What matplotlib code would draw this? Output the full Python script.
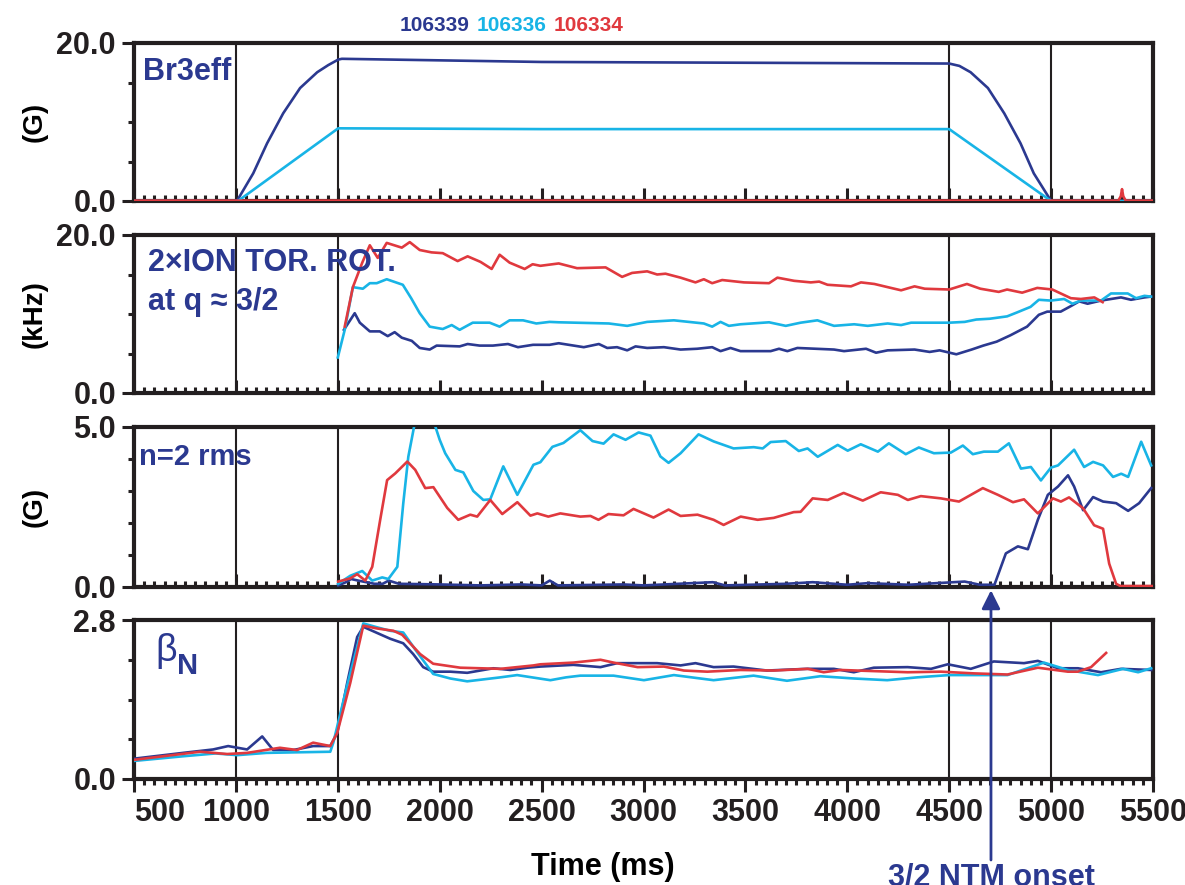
import matplotlib
matplotlib.use('Agg')
import matplotlib.pyplot as plt

plt.rcParams['font.family'] = ['Liberation Sans Narrow', 'Liberation Sans', 'DejaVu Sans']
plt.rcParams['font.weight'] = 'bold'

NAVY = '#2b3990'
CYAN = '#18b4e6'
RED = '#e0393e'

shots = ['106339', '106336', '106334']
shot_colors = [NAVY, CYAN, RED]

# --- Br3eff (G) ---
br_t_339 = [500, 1005, 1085, 1153, 1232, 1315, 1399, 1453, 1502, 1520, 2500, 3500, 4500,
            4550, 4605, 4690, 4770, 4850, 4915, 5000, 5500]
br_v_339 = [0.0, 0.0, 3.5, 7.3, 11.1, 14.3, 16.3, 17.2, 17.9, 18.0, 17.6, 17.5, 17.4,
            17.1, 16.3, 14.3, 11.1, 7.3, 3.5, 0.0, 0.0]
br_t_336 = [500, 1010, 1502, 2500, 3500, 4500, 5000, 5500]
br_v_336 = [0.0, 0.0, 9.2, 9.1, 9.1, 9.1, 0.0, 0.0]
br_t_334 = [500, 5330, 5342, 5348, 5354, 5366, 5500]
br_v_334 = [0.05, 0.05, 0.6, 1.5, 0.6, 0.05, 0.05]

# --- 2x ion toroidal rotation at q=3/2 (kHz) ---
rot_t_339 = [1530, 1583, 1608, 1657, 1706, 1745, 1779, 1814, 1863, 1902, 1951, 1985, 2098,
             2137, 2196, 2261, 2335, 2384, 2458, 2539, 2584, 2707, 2781, 2822, 2870, 2920,
             2961, 3018, 3100, 3182, 3263, 3337, 3378, 3427, 3476, 3624, 3665, 3706, 3755,
             3935, 3984, 4092, 4141, 4198, 4330, 4404, 4453, 4535, 4610, 4667, 4733, 4800,
             4882, 4940, 4981, 5047, 5097, 5138, 5179, 5245, 5343, 5392, 5458, 5490]
rot_v_339 = [8.0, 10.1, 8.9, 7.8, 7.8, 7.2, 7.7, 7.0, 6.6, 5.7, 5.5, 6.0, 5.9,
             6.2, 6.0, 6.0, 6.2, 5.8, 6.1, 6.1, 6.3, 5.8, 6.2, 5.7, 5.8, 5.4,
             5.9, 5.7, 5.8, 5.5, 5.6, 5.8, 5.3, 5.7, 5.3, 5.3, 5.6, 5.3, 5.7,
             5.5, 5.3, 5.6, 5.1, 5.4, 5.5, 5.2, 5.4, 4.9, 5.5, 6.0, 6.5, 7.3,
             8.4, 9.9, 10.3, 10.3, 11.0, 11.6, 11.3, 11.7, 12.1, 11.8, 12.1, 12.2]
rot_t_336 = [1500, 1534, 1574, 1623, 1657, 1691, 1740, 1819, 1860, 1902, 1951, 2015, 2059,
             2098, 2162, 2245, 2294, 2343, 2409, 2474, 2539, 2584, 2830, 2920, 3018, 3149,
             3296, 3337, 3378, 3419, 3476, 3616, 3698, 3771, 3853, 3935, 4034, 4100, 4198,
             4264, 4313, 4400, 4500, 4576, 4633, 4699, 4784, 4833, 4899, 4940, 4998, 5064,
             5105, 5146, 5245, 5294, 5376, 5417, 5458, 5490]
rot_v_336 = [4.5, 8.0, 13.4, 13.2, 13.9, 13.9, 14.4, 13.7, 12.0, 10.1, 8.4, 8.1, 8.6,
             8.0, 8.9, 8.9, 8.4, 9.2, 9.2, 8.8, 9.0, 8.95, 8.8, 8.5, 9.0, 9.2,
             8.8, 8.4, 9.0, 8.5, 8.7, 8.95, 8.5, 8.9, 9.2, 8.5, 8.7, 8.5, 8.8,
             8.6, 8.9, 8.9, 8.9, 9.0, 9.3, 9.4, 9.7, 10.2, 10.9, 11.8, 11.7, 11.9,
             11.3, 11.7, 11.7, 12.6, 12.6, 12.0, 12.3, 12.2]
rot_t_334 = [1534, 1574, 1620, 1657, 1696, 1740, 1814, 1853, 1902, 1960, 2015, 2088, 2137,
             2200, 2255, 2294, 2343, 2417, 2456, 2494, 2584, 2674, 2814, 2895, 2944, 3018,
             3067, 3108, 3182, 3255, 3296, 3337, 3386, 3493, 3616, 3657, 3739, 3821, 3862,
             3903, 4018, 4067, 4133, 4198, 4264, 4330, 4380, 4500, 4587, 4653, 4743, 4784,
             4858, 4932, 5006, 5097, 5146, 5212, 5253]
rot_v_334 = [8.4, 13.4, 16.5, 18.7, 17.1, 19.0, 18.4, 19.1, 18.1, 17.8, 17.7, 16.7, 17.3,
             16.6, 15.7, 17.5, 16.5, 15.7, 16.3, 16.1, 16.4, 15.8, 15.9, 14.7, 15.2, 15.4,
             15.0, 15.1, 14.6, 14.0, 14.4, 13.9, 14.3, 14.0, 13.9, 14.6, 14.2, 14.0, 14.1,
             13.7, 13.5, 14.0, 13.8, 13.4, 13.0, 13.5, 13.2, 13.1, 13.8, 13.2, 12.8, 13.1,
             12.7, 13.3, 13.1, 12.0, 11.9, 12.1, 11.5]

# --- n=2 rms (G) ---
n2_t_339 = [1502, 1540, 1565, 1600, 1640, 1680, 1720, 1750, 1800, 2000, 2200, 2400, 2500,
            2540, 2580, 2900, 3000, 3340, 3400, 3700, 3830, 4000, 4100, 4300, 4576, 4650,
            4722, 4778, 4837, 4886, 4935, 4984, 5034, 5083, 5113, 5157, 5206, 5255, 5319,
            5378, 5432, 5491]
n2_v_339 = [0.05, 0.15, 0.25, 0.2, 0.15, 0.1, 0.1, 0.2, 0.1, 0.08, 0.05, 0.08, 0.05,
            0.2, 0.05, 0.08, 0.05, 0.15, 0.05, 0.1, 0.15, 0.07, 0.12, 0.07, 0.17, 0.07,
            0.07, 1.05, 1.27, 1.18, 2.1, 2.88, 3.14, 3.49, 3.14, 2.4, 2.81, 2.67, 2.62,
            2.38, 2.62, 3.09]
n2_t_336 = [1502, 1561, 1620, 1669, 1718, 1748, 1792, 1821, 1846, 1880, 1920, 1969, 2000,
            2027, 2077, 2116, 2165, 2214, 2248, 2312, 2381, 2460, 2494, 2553, 2607, 2690,
            2750, 2804, 2853, 2912, 2976, 3034, 3083, 3123, 3182, 3270, 3344, 3442, 3541,
            3585, 3624, 3698, 3762, 3805, 3855, 3953, 4002, 4066, 4150, 4204, 4287, 4351,
            4425, 4508, 4567, 4616, 4670, 4739, 4793, 4852, 4901, 4950, 4999, 5034, 5113,
            5162, 5206, 5255, 5304, 5344, 5378, 5442, 5491]
n2_v_336 = [0.1, 0.35, 0.5, 0.2, 0.3, 0.25, 0.63, 2.6, 4.07, 5.2, 5.5, 5.2, 4.6,
            4.18, 3.66, 3.58, 3.0, 2.72, 2.74, 3.77, 2.88, 3.82, 3.9, 4.38, 4.5, 4.9,
            4.56, 4.48, 4.77, 4.6, 4.83, 4.73, 4.08, 3.88, 4.18, 4.77, 4.55, 4.33, 4.37,
            4.33, 4.53, 4.56, 4.25, 4.33, 4.07, 4.44, 4.26, 4.46, 4.23, 4.49, 4.15, 4.36,
            4.18, 4.2, 4.42, 4.15, 4.23, 4.23, 4.49, 3.7, 3.75, 3.33, 3.73, 3.8, 4.29,
            3.75, 3.91, 3.8, 3.44, 3.54, 3.44, 4.54, 3.8]
n2_t_334 = [1502, 1561, 1595, 1635, 1669, 1708, 1742, 1782, 1841, 1880, 1929, 1969, 2037,
            2091, 2150, 2184, 2248, 2307, 2381, 2445, 2479, 2533, 2592, 2690, 2740, 2779,
            2828, 2902, 2951, 3049, 3123, 3182, 3265, 3344, 3393, 3477, 3560, 3639, 3737,
            3771, 3830, 3904, 3982, 4076, 4164, 4248, 4297, 4361, 4459, 4548, 4665, 4739,
            4813, 4867, 4935, 5009, 5048, 5088, 5157, 5211, 5255, 5285, 5319, 5340, 5500]
n2_v_334 = [0.17, 0.27, 0.4, 0.2, 0.63, 2.1, 3.34, 3.55, 3.92, 3.66, 3.09, 3.12, 2.47,
            2.1, 2.26, 2.2, 2.72, 2.28, 2.65, 2.23, 2.3, 2.2, 2.3, 2.2, 2.22, 2.1,
            2.28, 2.24, 2.44, 2.17, 2.42, 2.22, 2.26, 2.1, 1.94, 2.2, 2.1, 2.16, 2.34,
            2.35, 2.77, 2.72, 2.94, 2.7, 2.96, 2.88, 2.72, 2.84, 2.77, 2.67, 3.09, 2.88,
            2.65, 2.74, 2.3, 2.77, 2.67, 2.8, 2.46, 1.93, 1.82, 0.73, 0.1, 0.03, 0.03]

# --- beta_N ---
bn_t_339 = [505, 741, 888, 962, 1055, 1129, 1183, 1281, 1379, 1463, 1497, 1546, 1595, 1625,
            1694, 1757, 1821, 1870, 1919, 1968, 2052, 2135, 2263, 2347, 2430, 2494, 2656,
            2789, 2871, 3067, 3182, 3255, 3344, 3442, 3606, 3803, 3934, 4032, 4130, 4296,
            4411, 4493, 4606, 4719, 4867, 4935, 5034, 5132, 5245, 5343, 5491]
bn_v_339 = [0.36, 0.46, 0.52, 0.58, 0.52, 0.75, 0.51, 0.51, 0.58, 0.58, 0.81, 1.69, 2.5, 2.68,
            2.57, 2.47, 2.39, 2.2, 1.97, 1.89, 1.89, 1.87, 1.95, 1.92, 1.96, 1.98, 2.01,
            1.97, 2.04, 2.04, 2.0, 2.04, 1.97, 1.98, 1.91, 1.94, 1.94, 1.88, 1.96, 1.97,
            1.94, 2.02, 1.94, 2.07, 2.04, 2.08, 1.95, 1.95, 1.88, 1.94, 1.92]
bn_t_336 = [505, 740, 900, 1006, 1150, 1300, 1463, 1478, 1546, 1625, 1694, 1757, 1821, 1890,
            1968, 2052, 2135, 2298, 2380, 2543, 2620, 2690, 2853, 3002, 3149, 3344, 3540,
            3704, 3868, 4032, 4196, 4343, 4500, 4786, 4884, 4965, 5082, 5230, 5353, 5427,
            5491]
bn_v_336 = [0.32, 0.4, 0.45, 0.42, 0.46, 0.47, 0.48, 0.64, 1.65, 2.74, 2.67, 2.61, 2.58, 2.23,
            1.85, 1.77, 1.72, 1.79, 1.83, 1.74, 1.79, 1.82, 1.82, 1.74, 1.83, 1.74, 1.82,
            1.73, 1.81, 1.77, 1.74, 1.79, 1.83, 1.83, 1.95, 2.05, 1.92, 1.83, 1.94, 1.88,
            1.95]
bn_t_334 = [505, 824, 957, 1055, 1216, 1300, 1379, 1463, 1497, 1561, 1625, 1694, 1773, 1816,
            1904, 1968, 2101, 2298, 2460, 2494, 2656, 2789, 2853, 2971, 3100, 3198, 3313,
            3476, 3640, 3806, 3884, 3967, 4130, 4296, 4459, 4621, 4786, 4935, 5082, 5131,
            5196, 5270]
bn_v_334 = [0.34, 0.48, 0.44, 0.46, 0.55, 0.51, 0.64, 0.58, 0.81, 1.69, 2.7, 2.65, 2.61, 2.54,
            2.2, 2.03, 1.96, 1.94, 2.0, 2.02, 2.05, 2.1, 2.05, 1.97, 1.98, 1.91, 1.89,
            1.92, 1.91, 1.94, 1.88, 1.92, 1.9, 1.88, 1.89, 1.86, 1.84, 1.96, 1.89, 1.89,
            1.97, 2.22]

phase_times = [1000, 1500, 4500, 5000]
ntm_onset = 4705
x_ticks = [500, 1000, 1500, 2000, 2500, 3000, 3500, 4000, 4500, 5000, 5500]

panels = [
    dict(series=[(br_t_339, br_v_339), (br_t_336, br_v_336), (br_t_334, br_v_334)],
         top=20.0, ytop='20.0', nminor=4, unit='(G)'),
    dict(series=[(rot_t_339, rot_v_339), (rot_t_336, rot_v_336), (rot_t_334, rot_v_334)],
         top=20.0, ytop='20.0', nminor=4, unit='(kHz)'),
    dict(series=[(n2_t_339, n2_v_339), (n2_t_336, n2_v_336), (n2_t_334, n2_v_334)],
         top=5.0, ytop='5.0', nminor=5, unit='(G)'),
    dict(series=[(bn_t_339, bn_v_339), (bn_t_336, bn_v_336), (bn_t_334, bn_v_334)],
         top=2.8, ytop='2.8', nminor=4, unit=None),
]

W, H = 1185, 885
fig = plt.figure(figsize=(W / 100, H / 100), dpi=100)

# panel boxes in pixels: (top, bottom)
boxes = [(43, 201), (235, 393), (427, 587), (620, 779)]
x0, x1 = 134, 1153

axes = []
for k, (p, (yt, yb)) in enumerate(zip(panels, boxes)):
    ax = fig.add_axes([x0 / W, 1 - yb / H, (x1 - x0) / W, (yb - yt) / H])
    axes.append(ax)
    for (t, v), c in zip(p['series'], shot_colors):
        ax.plot(t, v, color=c, lw=1.9, zorder=3)
    for pt in phase_times:
        ax.axvline(pt, color='#231f20', lw=1.5, zorder=2)
    ax.set_xlim(500, 5500)
    ax.set_ylim(0, p['top'])
    for s in ax.spines.values():
        s.set_linewidth(3.0)
        s.set_color('#231f20')
    ax.set_yticks([0, p['top']], ['0.0', p['ytop']])
    step = p['top'] / p['nminor']
    ax.set_yticks([step * i for i in range(1, p['nminor'])], minor=True)
    ax.tick_params(axis='y', which='major', direction='out', length=9, width=2.2,
                   labelsize=22, pad=4, colors='#231f20')
    ax.tick_params(axis='y', which='minor', direction='out', length=4.5, width=2.2,
                   colors='#231f20')
    ax.set_xticks(x_ticks)
    ax.set_xticks(range(500, 5501, 50), minor=True)
    last = k == len(panels) - 1
    ax.tick_params(axis='x', which='major', direction='out' if last else 'in',
                   length=9.5, width=2.2, labelsize=22, pad=4,
                   labelbottom=last, colors='#231f20')
    ax.tick_params(axis='x', which='minor', direction='out' if last else 'in',
                   length=4, width=2.2, colors='#231f20')
    if p['unit']:
        ax.set_ylabel(p['unit'], fontsize=20, fontweight='bold')
        ax.yaxis.set_label_coords(-0.085, 0.5)

ax1, ax2, ax3, ax4 = axes
ax4.get_xticklabels()[0].set_horizontalalignment('left')
fig.text(603 / W, 1 - 875 / H, 'Time (ms)', fontsize=22, ha='center', va='baseline')

# panel titles
ax1.text(0.009, 0.91, 'Br3eff', transform=ax1.transAxes, color=NAVY, fontsize=22,
         va='top', ha='left')
ax2.text(0.014, 0.92, '2\u00d7ION TOR. ROT.', transform=ax2.transAxes, color=NAVY,
         fontsize=22, va='top', ha='left')
ax2.text(0.014, 0.67, 'at q \u2248 3/2', transform=ax2.transAxes, color=NAVY,
         fontsize=22, va='top', ha='left')
ax3.text(0.005, 0.9, 'n=2 rms', transform=ax3.transAxes, color=NAVY, fontsize=21,
         va='top', ha='left')
ax4.text(0.021, 0.92, '\u03b2', transform=ax4.transAxes, color=NAVY, fontsize=27,
         fontweight='normal', va='top', ha='left')
ax4.text(0.042, 0.80, 'N', transform=ax4.transAxes, color=NAVY, fontsize=21,
         va='top', ha='left')

# shot numbers above the top panel, placed one after another
renderer = fig.canvas.get_renderer()
xpos = 400 / W
for s, c in zip(shots, shot_colors):
    txt = fig.text(xpos, 1 - 31 / H, s, color=c, fontsize=15, ha='left', va='baseline')
    bb = txt.get_window_extent(renderer)
    xpos = (bb.x1 + 7) / W

# NTM onset marker
ax4.annotate('', xy=(ntm_onset, -0.1), xycoords=ax3.transData,
             xytext=(ntm_onset, 1 - 860 / H), textcoords=('data', 'figure fraction'),
             arrowprops=dict(arrowstyle='-|>', color=NAVY, lw=2, mutation_scale=28,
                             shrinkA=0, shrinkB=0),
             annotation_clip=False)
ax4.annotate('3/2 NTM onset', xy=(ntm_onset, 0.0), xycoords=('data', 'figure fraction'),
             color=NAVY, fontsize=22, ha='center', va='baseline', annotation_clip=False)

fig.savefig('out.png', dpi=100)
